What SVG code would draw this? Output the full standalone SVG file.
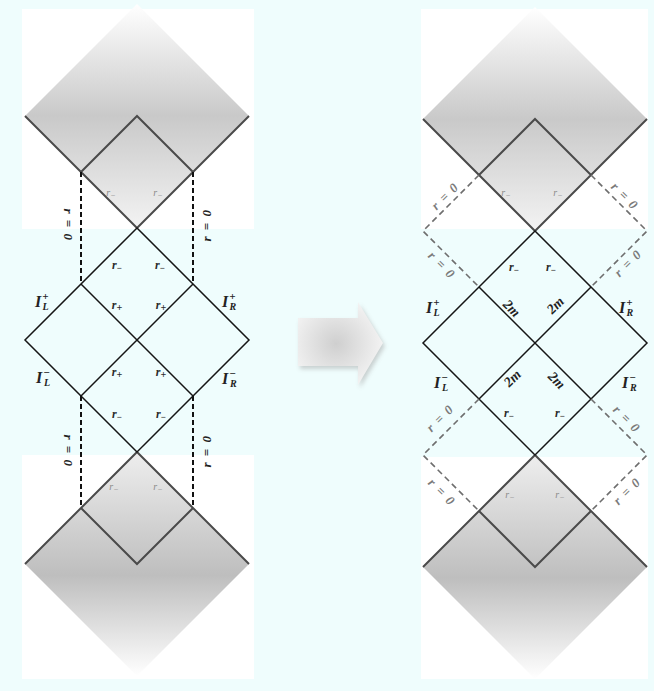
<svg xmlns="http://www.w3.org/2000/svg" width="654" height="691" viewBox="0 0 654 691">
<defs>
<linearGradient id="gTop" gradientUnits="userSpaceOnUse" x1="0" y1="-336" x2="0" y2="-112">
<stop offset="0" stop-color="#ffffff"/>
<stop offset="0.5" stop-color="#c9c9c9"/>
<stop offset="1" stop-color="#f3f3f3"/>
</linearGradient>
<linearGradient id="gBot" gradientUnits="userSpaceOnUse" x1="0" y1="112" x2="0" y2="336">
<stop offset="0" stop-color="#eeeeee"/>
<stop offset="0.55" stop-color="#bebebe"/>
<stop offset="1" stop-color="#ffffff"/>
</linearGradient>
<radialGradient id="gArrow" cx="0.45" cy="0.5" r="0.6">
<stop offset="0" stop-color="#cfcfcf"/>
<stop offset="1" stop-color="#f6f6f6"/>
</radialGradient>
<filter id="blur" x="-20%" y="-20%" width="140%" height="140%">
<feGaussianBlur stdDeviation="2"/>
</filter>
</defs>
<style>
.g{stroke:#4a4a4a;stroke-width:2;fill:none}
.k{stroke:#151515;stroke-width:1.5;fill:none}
.dk{stroke:#111;stroke-width:2;stroke-dasharray:5 3;fill:none}
.dg{stroke:#6e6e6e;stroke-width:1.6;stroke-dasharray:6 4;fill:none}
.r{font-family:"Liberation Serif",serif;font-style:italic;font-weight:bold;font-size:12px;fill:#2a2a2a;text-anchor:middle}
.rl{font-family:"Liberation Serif",serif;font-style:italic;font-size:10px;fill:#8a8a8a;text-anchor:middle}
.I{font-family:"Liberation Serif",serif;font-style:italic;font-weight:bold;font-size:16px;fill:#222}
.z{font-family:"Liberation Serif",serif;font-style:italic;font-weight:bold;font-size:13px;letter-spacing:1.5px;fill:#222;text-anchor:middle}
.zg{font-family:"Liberation Serif",serif;font-style:italic;font-weight:bold;font-size:13px;letter-spacing:1.5px;fill:#7a7a7a;text-anchor:middle}
.m{font-family:"Liberation Serif",serif;font-style:italic;font-weight:bold;font-size:14px;fill:#222;text-anchor:middle}
</style>
<rect x="0" y="0" width="654" height="691" fill="#effdfd"/>
<g id="panels" fill="#ffffff">
<rect x="22" y="9" width="232" height="220"/>
<rect x="22" y="455" width="232" height="224"/>
<rect x="421" y="9" width="227" height="220"/>
<rect x="421" y="457" width="227" height="222"/>
</g>

<g id="left-diagram" transform="translate(137,340)">
<g id="left-top-region">
<polygon points="-112,-224 0,-336 112,-224 0,-112" fill="url(#gTop)"/>
<path class="g" d="M-112,-224 L0,-112 M112,-224 L0,-112 M-56,-168 L0,-224 L56,-168"/>
<text class="rl" x="-26" y="-144">r<tspan font-size="8" dy="2">−</tspan></text>
<text class="rl" x="21" y="-144">r<tspan font-size="8" dy="2">−</tspan></text>
</g>
<g id="left-bottom-region">
<polygon points="-112,224 0,112 112,224 0,336" fill="url(#gBot)"/>
<path class="g" d="M-112,224 L0,112 M112,224 L0,112 M-56,168 L0,224 L56,168"/>
<text class="rl" x="-23" y="150">r<tspan font-size="8" dy="2">−</tspan></text>
<text class="rl" x="21" y="150">r<tspan font-size="8" dy="2">−</tspan></text>
</g>
<g id="left-connectors">
<path class="k" d="M0,-112 L112,0 L0,112 L-112,0 Z M-56,-56 L56,56 M56,-56 L-56,56"/>
<path class="dk" d="M-56,-168 V-56 M56,-168 V-56 M-56,56 V168 M56,56 V168"/>
</g>
<g id="left-labels">
<text class="r" x="-20" y="-71">r<tspan font-size="9" dy="2">−</tspan></text>
<text class="r" x="23" y="-71">r<tspan font-size="9" dy="2">−</tspan></text>
<text class="r" x="-20" y="-31">r<tspan font-size="10" dy="2">+</tspan></text>
<text class="r" x="24" y="-31">r<tspan font-size="10" dy="2">+</tspan></text>
<text class="r" x="-20" y="36">r<tspan font-size="10" dy="2">+</tspan></text>
<text class="r" x="24" y="36">r<tspan font-size="10" dy="2">+</tspan></text>
<text class="r" x="-20" y="78">r<tspan font-size="9" dy="2">−</tspan></text>
<text class="r" x="24" y="78">r<tspan font-size="9" dy="2">−</tspan></text>
<text class="I" x="-102" y="-33">I<tspan font-size="11" dx="1" dy="-7">+</tspan><tspan font-size="10" dx="-6" dy="10">L</tspan></text>
<text class="I" x="85" y="-33">I<tspan font-size="11" dx="1" dy="-7">+</tspan><tspan font-size="10" dx="-6" dy="10">R</tspan></text>
<text class="I" x="-101" y="43">I<tspan font-size="11" dx="1" dy="-7">−</tspan><tspan font-size="10" dx="-6" dy="10">L</tspan></text>
<text class="I" x="85" y="44">I<tspan font-size="11" dx="1" dy="-7">−</tspan><tspan font-size="10" dx="-6" dy="10">R</tspan></text>
</g>
</g>
<g id="left-r0-labels">
<text class="z" transform="translate(68,225) rotate(90)" x="0" y="4.5">r = 0</text>
<text class="z" transform="translate(206,225) rotate(-90)" x="0" y="4.5">r = 0</text>
<text class="z" transform="translate(68,451) rotate(90)" x="0" y="4.5">r = 0</text>
<text class="z" transform="translate(206,451) rotate(-90)" x="0" y="4.5">r = 0</text>
</g>

<g id="transform-arrow">
<path d="M298,318 H358 V302 L383,343 L358,385 V366 H298 Z" fill="#9a9a9a" opacity="0.45" transform="translate(2,3)" filter="url(#blur)"/>
<path d="M298,318 H358 V302 L383,343 L358,385 V366 H298 Z" fill="url(#gArrow)"/>
</g>

<g id="right-diagram" transform="translate(535,343)">
<g id="right-top-region">
<polygon points="-112,-224 0,-336 112,-224 0,-112" fill="url(#gTop)"/>
<path class="g" d="M-112,-224 L0,-112 M112,-224 L0,-112 M-56,-168 L0,-224 L56,-168"/>
<text class="rl" x="-29" y="-147">r<tspan font-size="8" dy="2">−</tspan></text>
<text class="rl" x="23" y="-147">r<tspan font-size="8" dy="2">−</tspan></text>
</g>
<g id="right-bottom-region">
<polygon points="-112,224 0,112 112,224 0,336" fill="url(#gBot)"/>
<path class="g" d="M-112,224 L0,112 M112,224 L0,112 M-56,168 L0,224 L56,168"/>
<text class="rl" x="-25" y="155">r<tspan font-size="8" dy="2">−</tspan></text>
<text class="rl" x="25" y="155">r<tspan font-size="8" dy="2">−</tspan></text>
</g>
<g id="right-connectors">
<path class="k" d="M0,-112 L112,0 L0,112 L-112,0 Z M-56,-56 L56,56 M56,-56 L-56,56"/>
<path class="dg" d="M-56,-168 L-112,-112 L-56,-56 M56,-168 L112,-112 L56,-56 M-56,56 L-112,112 L-56,168 M56,56 L112,112 L56,168"/>
</g>
<g id="right-labels">
<text class="r" x="-21" y="-72">r<tspan font-size="9" dy="2">−</tspan></text>
<text class="r" x="16" y="-72">r<tspan font-size="9" dy="2">−</tspan></text>
<text class="r" x="-26" y="74">r<tspan font-size="9" dy="2">−</tspan></text>
<text class="r" x="25" y="74">r<tspan font-size="9" dy="2">−</tspan></text>
<text class="m" transform="translate(-23,-35) rotate(45)" x="0" y="5">2m</text>
<text class="m" transform="translate(20,-38) rotate(-45)" x="0" y="5">2m</text>
<text class="m" transform="translate(-23,35) rotate(-45)" x="0" y="5">2m</text>
<text class="m" transform="translate(22,37) rotate(45)" x="0" y="5">2m</text>
<text class="I" x="-109" y="-30">I<tspan font-size="11" dx="1" dy="-7">+</tspan><tspan font-size="10" dx="-6" dy="10">L</tspan></text>
<text class="I" x="84" y="-30">I<tspan font-size="11" dx="1" dy="-7">+</tspan><tspan font-size="10" dx="-6" dy="10">R</tspan></text>
<text class="I" x="-101" y="45">I<tspan font-size="11" dx="1" dy="-7">−</tspan><tspan font-size="10" dx="-6" dy="10">L</tspan></text>
<text class="I" x="87" y="45">I<tspan font-size="11" dx="1" dy="-7">−</tspan><tspan font-size="10" dx="-6" dy="10">R</tspan></text>
</g>
</g>
<g id="right-r0-labels">
<text class="zg" transform="translate(445,196) rotate(-45)" x="0" y="4.5">r = 0</text>
<text class="zg" transform="translate(442,265) rotate(45)" x="0" y="4.5">r = 0</text>
<text class="zg" transform="translate(625,196) rotate(45)" x="0" y="4.5">r = 0</text>
<text class="zg" transform="translate(628,263) rotate(-45)" x="0" y="4.5">r = 0</text>
<text class="zg" transform="translate(440,418) rotate(-45)" x="0" y="4.5">r = 0</text>
<text class="zg" transform="translate(442,492) rotate(45)" x="0" y="4.5">r = 0</text>
<text class="zg" transform="translate(627,419) rotate(45)" x="0" y="4.5">r = 0</text>
<text class="zg" transform="translate(627,491) rotate(-45)" x="0" y="4.5">r = 0</text>
</g>
</svg>
